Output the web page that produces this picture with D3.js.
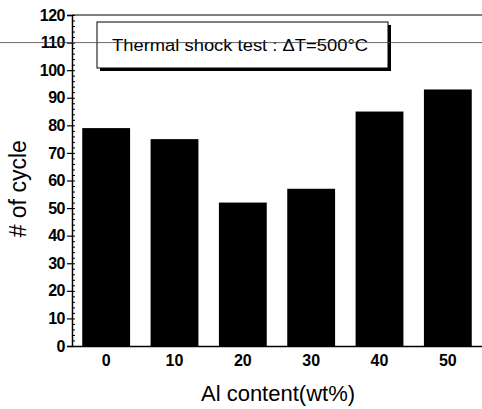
<!DOCTYPE html>
<html>
<head>
<meta charset="utf-8">
<script src="https://cdn.jsdelivr.net/npm/d3@7"></script>
<style>
  body { margin: 0; background: #fff; }
  svg { display: block; font-family: "Liberation Sans", Arial, sans-serif; }
</style>
</head>
<body>
<div id="chart"></div>
<script>
// Data
const alContent = ['0', '10', '20', '30', '40', '50'];
const cycles = [79, 75, 52, 57, 85, 93];
const yTicks = [0, 10, 20, 30, 40, 50, 60, 70, 80, 90, 100, 110, 120];
const legendText = 'Thermal shock test : \u0394T=500\u00B0C';

const W = 482, H = 409;
const margin = { top: 15, right: 0, bottom: 63, left: 72 };
const width = W - margin.left - margin.right;
const height = H - margin.top - margin.bottom;

const root = d3.select('#chart')
    .append('svg')
    .attr('width', W)
    .attr('height', H);

const svg = root.append('g')
    .attr('transform', `translate(${margin.left},${margin.top})`);

const x = d3.scaleBand()
    .domain(alContent)
    .range([0, width])
    .paddingInner(0.3)
    .paddingOuter(0.15);

const y = d3.scaleLinear()
    .domain([0, 120])
    .range([height, 0]);

// Top frame line at 120
svg.append('line')
    .attr('x1', 0)
    .attr('x2', width)
    .attr('y1', y(120))
    .attr('y2', y(120))
    .attr('stroke', '#000')
    .attr('stroke-width', 1);

// Bars
svg.selectAll('.bar')
    .data(cycles)
    .enter()
    .append('rect')
    .attr('class', 'bar')
    .attr('x', (d, i) => x(alContent[i]))
    .attr('width', x.bandwidth())
    .attr('y', d => y(d))
    .attr('height', d => height - y(d))
    .attr('fill', '#000');

// Minor ticks on y axis (inward)
svg.append('g')
    .call(d3.axisRight(y).ticks(60).tickSize(3).tickFormat(''))
    .call(g => g.select('.domain').remove())
    .selectAll('line').attr('stroke', '#000');

// Y axis
const yAxis = svg.append('g')
    .call(d3.axisLeft(y).tickValues(yTicks).tickSize(5).tickPadding(2));
yAxis.select('.domain').attr('stroke-width', 1.5);
yAxis.selectAll('line').attr('stroke-width', 1.2);
yAxis.selectAll('text')
    .style('font-size', '16px')
    .style('font-weight', 'bold')
    .style('letter-spacing', '-0.5px')
    .attr('fill', '#000');

// X axis
const xAxis = svg.append('g')
    .attr('transform', `translate(0,${height})`)
    .call(d3.axisBottom(x).tickSize(0).tickPadding(9));
xAxis.select('.domain').attr('stroke-width', 1.5);
xAxis.selectAll('text')
    .style('font-size', '16px')
    .style('font-weight', 'bold')
    .attr('fill', '#000');

// Axis titles
svg.append('text')
    .attr('transform', `translate(${-margin.left + 26},${y(57)}) rotate(-90)`)
    .attr('text-anchor', 'middle')
    .style('font-size', '23px')
    .text('# of cycle');

svg.append('text')
    .attr('x', 278 - margin.left)
    .attr('y', height + 55)
    .attr('text-anchor', 'middle')
    .style('font-size', '22px')
    .text('Al content(wt%)');

// Legend box with shadow
const lg = svg.append('g')
    .attr('transform', `translate(${97 - margin.left},${22 - margin.top})`);
lg.append('rect')
    .attr('x', 3).attr('y', 3)
    .attr('width', 291).attr('height', 46)
    .attr('fill', '#000');
lg.append('rect')
    .attr('x', 0).attr('y', 0)
    .attr('width', 291).attr('height', 46)
    .attr('fill', '#fff')
    .attr('stroke', '#000')
    .attr('stroke-width', 1);
lg.append('text')
    .attr('x', 15)
    .attr('y', 29)
    .attr('textLength', 256)
    .attr('lengthAdjust', 'spacingAndGlyphs')
    .style('font-size', '16px')
    .text(legendText);

// Stray horizontal line at 110 (crosses whole figure, over the legend)
svg.append('line')
    .attr('x1', -margin.left)
    .attr('x2', width)
    .attr('y1', y(110))
    .attr('y2', y(110))
    .attr('stroke', '#444')
    .attr('stroke-width', 0.8);
</script>
</body>
</html>
